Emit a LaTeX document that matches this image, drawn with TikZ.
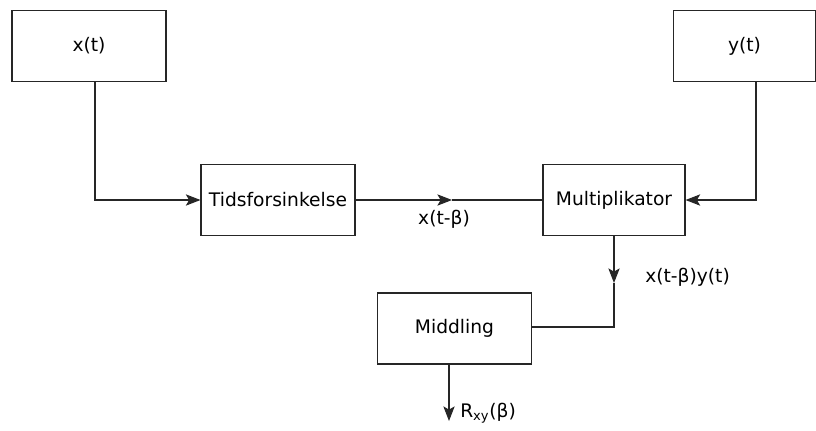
\documentclass[tikz,border=0pt]{standalone}
\usepackage{fontspec}
\setmainfont{DejaVu Sans}
\usetikzlibrary{arrows.meta}
\begin{document}
\begin{tikzpicture}[x=0.75pt,y=-0.75pt,
  blk/.style={draw=black!85, line width=0.8pt, minimum width=115.5pt, minimum height=53.25pt, inner sep=0pt, font=\fontsize{14pt}{16pt}\selectfont},
  lbl/.style={font=\fontsize{14pt}{16pt}\selectfont, inner sep=0pt},
  con/.style={draw=black!85, line width=0.8pt},
  arr/.style={con, -{Stealth[length=11pt, width=8.5pt, inset=2.5pt]}}]
\useasboundingbox (0,0) rectangle (816,430);
\node[blk] (x) at (89,46) {x(t)};
\node[blk, minimum width=106.5pt] (y) at (744.5,46) {y(t)};
\node[blk] (tid) at (278,200) {Tidsforsinkelse};
\node[blk, minimum width=106.5pt] (mul) at (614,200) {Multiplikator};
\node[blk] (mid) at (454.5,328.5) {Middling};
\coordinate (m1) at (452,200);
\coordinate (m2) at (614,283);
\coordinate (c2) at (614,327);
\coordinate (out) at (449,421);
\draw[arr] (x.south -| 95,0) |- (tid.west);
\draw[arr] (y.south -| 756,0) |- (mul.east);
\draw[arr] (tid.east) -- (m1);
\draw[con] (m1) -- (mul.west);
\draw[arr] (mul.south) -- (m2);
\draw[con] (m2) -- (c2) -- (mid.east |- c2);
\draw[arr] (mid.south -| out) -- (out);
\node[lbl] (l1) at (444,219) {x(t-β)};
\node[lbl, anchor=west] (l2) at (645,277) {x(t-β)y(t)};
\node[lbl, anchor=west] (l3) at (460,413) {R\textsubscript{xy}(β)};
\end{tikzpicture}
\end{document}
